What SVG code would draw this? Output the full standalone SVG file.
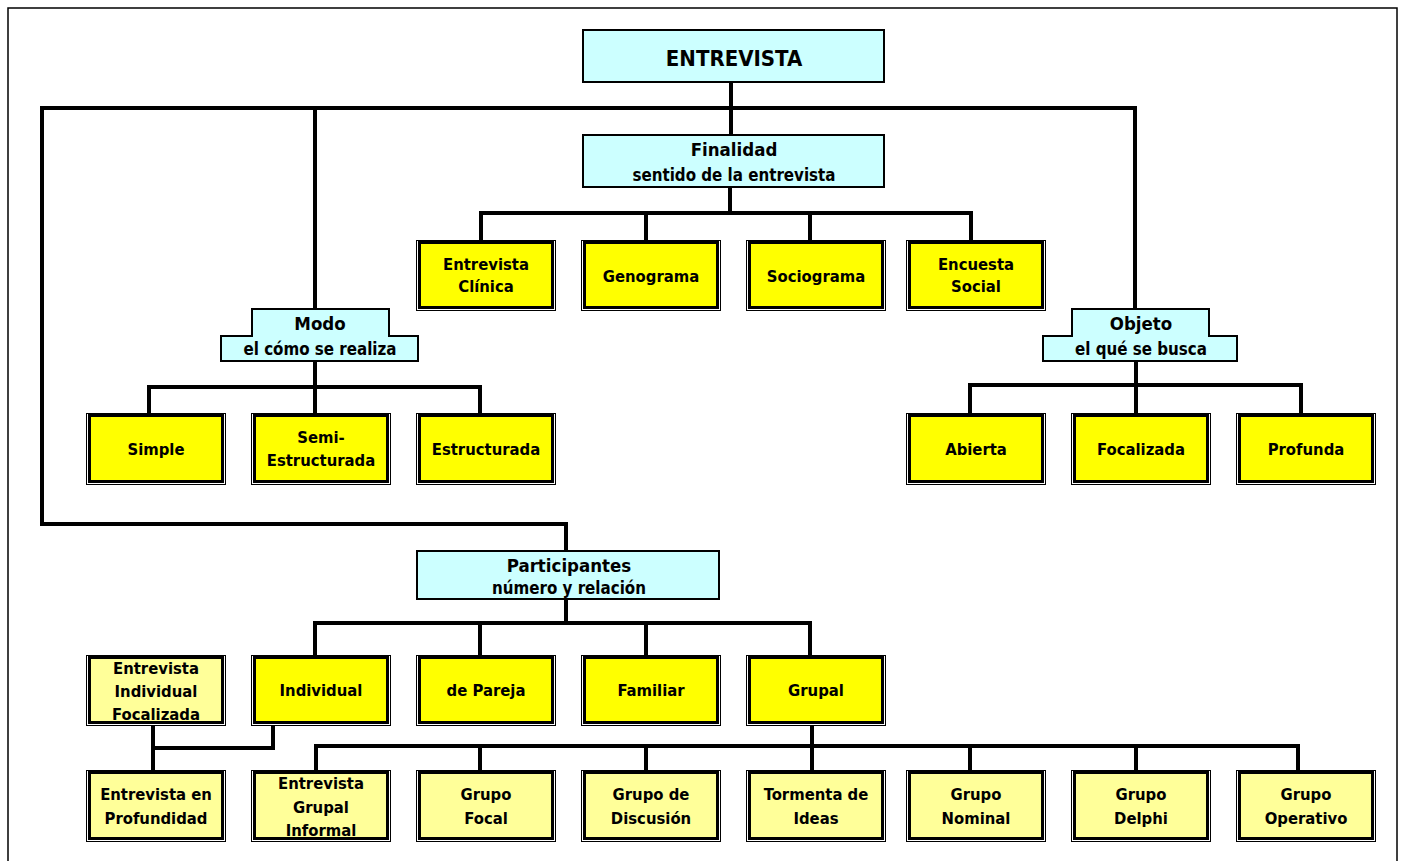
<svg xmlns="http://www.w3.org/2000/svg" width="1403" height="861" viewBox="0 0 1403 861">
<style>
text{font-family:"DejaVu Sans Condensed","DejaVu Sans",sans-serif;font-weight:bold;fill:#000;text-anchor:middle}
.t{font-size:16.5px}
.h{font-size:18.5px}
.s{font-size:16.8px}
.big{font-size:22px}
.cy{fill:#CCFFFF;stroke:#000;stroke-width:2}
.yo{fill:#fff;stroke:#000;stroke-width:1}
.yi{fill:#FFFF00;stroke:#000;stroke-width:3}
.li{fill:#FFFF99;stroke:#000;stroke-width:3}
.c{fill:none;stroke:#000;stroke-width:4;stroke-linejoin:miter;stroke-linecap:square}
</style>
<rect x="0" y="0" width="1403" height="861" fill="#fff"/>
<rect x="8" y="8" width="1389" height="880" fill="none" stroke="#000" stroke-width="1.5"/>

<g id="connectors">
<path class="c" d="M731,82 V135"/>
<path class="c" d="M42,108 H1135"/>
<path class="c" d="M42,108 V524 H566 V551"/>
<path class="c" d="M315,108 V309"/>
<path class="c" d="M1135,108 V309"/>
<path class="c" d="M730,187 V213"/>
<path class="c" d="M481,240 V213 H971 V240"/>
<path class="c" d="M646,213 V240"/>
<path class="c" d="M810,213 V240"/>
<path class="c" d="M315,361 V411"/>
<path class="c" d="M149,413 V387 H480 V413"/>
<path class="c" d="M1136,361 V411"/>
<path class="c" d="M970,413 V385 H1301 V413"/>
<path class="c" d="M566,599 V623"/>
<path class="c" d="M315,655 V623 H810 V655"/>
<path class="c" d="M480,623 V655"/>
<path class="c" d="M646,623 V655"/>
<path class="c" d="M273,725 V748 H153"/>
<path class="c" d="M153,725 V770"/>
<path class="c" d="M812,725 V746"/>
<path class="c" d="M316,770 V746 H1298 V770"/>
<path class="c" d="M480,746 V770"/>
<path class="c" d="M646,746 V770"/>
<path class="c" d="M812,746 V770"/>
<path class="c" d="M970,746 V770"/>
<path class="c" d="M1136,746 V770"/>
</g>

<g id="entrevista">
<rect class="cy" x="583" y="30" width="301" height="52"/>
<text class="big" x="734" y="66">ENTREVISTA</text>
</g>
<g id="finalidad">
<rect class="cy" x="583" y="135" width="301" height="52"/>
<text class="h" x="734" y="156">Finalidad</text>
<text class="s" x="734" y="181">sentido de la entrevista</text>
</g>

<g id="entrevista-clinica">
<rect class="yo" x="416.5" y="240.5" width="139" height="70"/>
<rect class="yi" x="419.5" y="242.5" width="133" height="65"/>
<text class="t" x="486" y="270">Entrevista</text>
<text class="t" x="486" y="292">Clínica</text>
</g>
<g id="genograma">
<rect class="yo" x="581.5" y="240.5" width="139" height="70"/>
<rect class="yi" x="584.5" y="242.5" width="133" height="65"/>
<text class="t" x="651" y="282">Genograma</text>
</g>
<g id="sociograma">
<rect class="yo" x="746.5" y="240.5" width="139" height="70"/>
<rect class="yi" x="749.5" y="242.5" width="133" height="65"/>
<text class="t" x="816" y="282">Sociograma</text>
</g>
<g id="encuesta-social">
<rect class="yo" x="906.5" y="240.5" width="139" height="70"/>
<rect class="yi" x="909.5" y="242.5" width="133" height="65"/>
<text class="t" x="976" y="270">Encuesta</text>
<text class="t" x="976" y="292">Social</text>
</g>

<g id="modo">
<path class="cy" d="M252,309 H389 V336 H418 V361 H221 V336 H252 Z"/>
<text class="h" x="320" y="330">Modo</text>
<text class="s" x="320" y="355">el cómo se realiza</text>
</g>
<g id="objeto">
<path class="cy" d="M1072,309 H1209 V336 H1237 V361 H1043 V336 H1072 Z"/>
<text class="h" x="1141" y="330">Objeto</text>
<text class="s" x="1141" y="355">el qué se busca</text>
</g>

<g id="simple">
<rect class="yo" x="86.5" y="413.5" width="139" height="71"/>
<rect class="yi" x="89.5" y="415.5" width="133" height="66"/>
<text class="t" x="156" y="455">Simple</text>
</g>
<g id="semi-estructurada">
<rect class="yo" x="251.5" y="413.5" width="139" height="71"/>
<rect class="yi" x="254.5" y="415.5" width="133" height="66"/>
<text class="t" x="321" y="443">Semi-</text>
<text class="t" x="321" y="466">Estructurada</text>
</g>
<g id="estructurada">
<rect class="yo" x="416.5" y="413.5" width="139" height="71"/>
<rect class="yi" x="419.5" y="415.5" width="133" height="66"/>
<text class="t" x="486" y="455">Estructurada</text>
</g>
<g id="abierta">
<rect class="yo" x="906.5" y="413.5" width="139" height="71"/>
<rect class="yi" x="909.5" y="415.5" width="133" height="66"/>
<text class="t" x="976" y="455">Abierta</text>
</g>
<g id="focalizada">
<rect class="yo" x="1071.5" y="413.5" width="139" height="71"/>
<rect class="yi" x="1074.5" y="415.5" width="133" height="66"/>
<text class="t" x="1141" y="455">Focalizada</text>
</g>
<g id="profunda">
<rect class="yo" x="1236.5" y="413.5" width="139" height="71"/>
<rect class="yi" x="1239.5" y="415.5" width="133" height="66"/>
<text class="t" x="1306" y="455">Profunda</text>
</g>

<g id="participantes">
<rect class="cy" x="417" y="551" width="302" height="48"/>
<text class="h" x="569" y="572">Participantes</text>
<text class="s" x="569" y="594">número y relación</text>
</g>

<g id="entrevista-individual-focalizada">
<rect class="yo" x="86.5" y="655.5" width="139" height="70"/>
<rect class="li" x="89.5" y="657.5" width="133" height="65"/>
<text class="t" x="156" y="674">Entrevista</text>
<text class="t" x="156" y="697">Individual</text>
<text class="t" x="156" y="720">Focalizada</text>
</g>
<g id="individual">
<rect class="yo" x="251.5" y="655.5" width="139" height="70"/>
<rect class="yi" x="254.5" y="657.5" width="133" height="65"/>
<text class="t" x="321" y="696">Individual</text>
</g>
<g id="de-pareja">
<rect class="yo" x="416.5" y="655.5" width="139" height="70"/>
<rect class="yi" x="419.5" y="657.5" width="133" height="65"/>
<text class="t" x="486" y="696">de Pareja</text>
</g>
<g id="familiar">
<rect class="yo" x="581.5" y="655.5" width="139" height="70"/>
<rect class="yi" x="584.5" y="657.5" width="133" height="65"/>
<text class="t" x="651" y="696">Familiar</text>
</g>
<g id="grupal">
<rect class="yo" x="746.5" y="655.5" width="139" height="70"/>
<rect class="yi" x="749.5" y="657.5" width="133" height="65"/>
<text class="t" x="816" y="696">Grupal</text>
</g>

<g id="entrevista-en-profundidad">
<rect class="yo" x="86.5" y="770.5" width="139" height="71"/>
<rect class="li" x="89.5" y="772.5" width="133" height="66"/>
<text class="t" x="156" y="800">Entrevista en</text>
<text class="t" x="156" y="824">Profundidad</text>
</g>
<g id="entrevista-grupal-informal">
<rect class="yo" x="251.5" y="770.5" width="139" height="71"/>
<rect class="li" x="254.5" y="772.5" width="133" height="66"/>
<text class="t" x="321" y="789">Entrevista</text>
<text class="t" x="321" y="813">Grupal</text>
<text class="t" x="321" y="836">Informal</text>
</g>
<g id="grupo-focal">
<rect class="yo" x="416.5" y="770.5" width="139" height="71"/>
<rect class="li" x="419.5" y="772.5" width="133" height="66"/>
<text class="t" x="486" y="800">Grupo</text>
<text class="t" x="486" y="824">Focal</text>
</g>
<g id="grupo-de-discusion">
<rect class="yo" x="581.5" y="770.5" width="139" height="71"/>
<rect class="li" x="584.5" y="772.5" width="133" height="66"/>
<text class="t" x="651" y="800">Grupo de</text>
<text class="t" x="651" y="824">Discusión</text>
</g>
<g id="tormenta-de-ideas">
<rect class="yo" x="746.5" y="770.5" width="139" height="71"/>
<rect class="li" x="749.5" y="772.5" width="133" height="66"/>
<text class="t" x="816" y="800">Tormenta de</text>
<text class="t" x="816" y="824">Ideas</text>
</g>
<g id="grupo-nominal">
<rect class="yo" x="906.5" y="770.5" width="139" height="71"/>
<rect class="li" x="909.5" y="772.5" width="133" height="66"/>
<text class="t" x="976" y="800">Grupo</text>
<text class="t" x="976" y="824">Nominal</text>
</g>
<g id="grupo-delphi">
<rect class="yo" x="1071.5" y="770.5" width="139" height="71"/>
<rect class="li" x="1074.5" y="772.5" width="133" height="66"/>
<text class="t" x="1141" y="800">Grupo</text>
<text class="t" x="1141" y="824">Delphi</text>
</g>
<g id="grupo-operativo">
<rect class="yo" x="1236.5" y="770.5" width="139" height="71"/>
<rect class="li" x="1239.5" y="772.5" width="133" height="66"/>
<text class="t" x="1306" y="800">Grupo</text>
<text class="t" x="1306" y="824">Operativo</text>
</g>
</svg>
